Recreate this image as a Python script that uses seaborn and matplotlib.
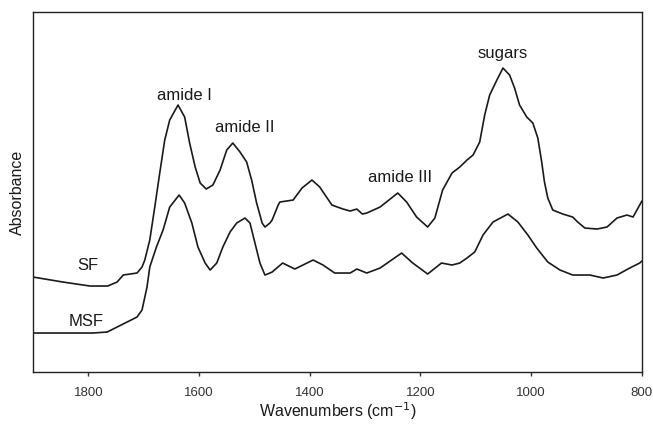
import matplotlib
matplotlib.use("Agg")
import matplotlib.pyplot as plt
import seaborn as sns
import pandas as pd

# ---- data (absorbance in arbitrary units) ----
wn_sf = [1900, 1846, 1797, 1765, 1748, 1737, 1712, 1703, 1698, 1689, 1680, 1671,
         1662, 1653, 1638, 1626, 1617, 1607, 1598, 1587, 1575, 1562, 1550, 1539,
         1526, 1514, 1505, 1496, 1486, 1481, 1472, 1468, 1457, 1454, 1430, 1414,
         1396, 1382, 1360, 1340, 1327, 1315, 1305, 1297, 1273, 1241, 1225, 1207,
         1187, 1174, 1160, 1143, 1129, 1116, 1105, 1093, 1084, 1075, 1062, 1051,
         1039, 1030, 1021, 1008, 997, 988, 981, 976, 970, 961, 943, 925,
         916, 903, 881, 863, 845, 827, 816, 804, 800]
abs_sf = [95, 90, 86, 86, 90, 97, 99, 105, 112, 132, 165, 199,
          232, 252, 267, 255, 229, 205, 189, 183, 187, 202, 222, 229,
          220, 210, 192, 169, 149, 145, 149, 152, 167, 170, 172, 184,
          192, 185, 167, 163, 161, 163, 158, 159, 165, 179, 170, 155,
          145, 154, 182, 199, 205, 212, 217, 230, 257, 277, 292, 304,
          297, 284, 267, 255, 249, 234, 210, 190, 174, 162, 158, 155,
          150, 144, 143, 145, 154, 157, 155, 167, 171]

wn_msf = [1900, 1792, 1766, 1748, 1730, 1712, 1703, 1694, 1689, 1677, 1665, 1653,
          1636, 1626, 1613, 1602, 1589, 1580, 1568, 1557, 1544, 1532, 1517, 1508,
          1499, 1490, 1481, 1472, 1468, 1449, 1427, 1394, 1376, 1355, 1327, 1315,
          1297, 1273, 1234, 1214, 1187, 1162, 1143, 1129, 1116, 1102, 1087, 1069,
          1042, 1024, 1006, 990, 970, 948, 925, 894, 870, 845, 822, 804, 800]
abs_msf = [39, 39, 40, 45, 50, 55, 62, 85, 105, 125, 142, 165,
           177, 169, 149, 125, 109, 102, 109, 125, 140, 149, 154, 149,
           129, 109, 97, 99, 100, 109, 103, 112, 107, 99, 99, 103,
           99, 104, 119, 109, 98, 109, 107, 109, 114, 120, 137, 150,
           158, 150, 137, 124, 110, 102, 97, 97, 94, 97, 104, 109, 111]

band_labels = ["amide I", "amide II", "amide III", "sugars"]
band_wn = [1627, 1517, 1237, 1051]
band_abs = [277, 245, 195, 319]

series_labels = ["SF", "MSF"]
series_label_wn = [1800, 1804]
series_label_abs = [107, 51]

x_ticks = [1800, 1600, 1400, 1200, 1000, 800]

# ---- plotting ----
sns.set_theme(style="white")
plt.rcParams["font.family"] = ["Liberation Sans", "DejaVu Sans"]

df = pd.concat([
    pd.DataFrame({"wn": wn_sf, "A": abs_sf, "s": "SF"}),
    pd.DataFrame({"wn": wn_msf, "A": abs_msf, "s": "MSF"}),
])

fig = plt.figure(figsize=(6.53, 4.24), dpi=100)
ax = fig.add_axes([0.0505, 0.1226, 0.9325, 0.849])

sns.lineplot(data=df, x="wn", y="A", units="s", estimator=None,
             color="#1a1a1a", linewidth=1.2, ax=ax, legend=False,
             solid_joinstyle="round")

ax.set_xlim(1900, 800)
ax.set_ylim(0, 360)
ax.set_xticks(x_ticks)
ax.set_xticklabels([str(t) for t in x_ticks], color="#333333", fontsize=9.5)
ax.set_yticks([])
ax.tick_params(axis="x", direction="out", length=3, width=1, color="#333333",
               bottom=True, pad=8)
for sp in ax.spines.values():
    sp.set_visible(True)
    sp.set_color("#222222")
    sp.set_linewidth(1.0)

ax.set_xlabel("Wavenumbers (cm$^{-1}$)", fontsize=11.5, color="#1a1a1a", labelpad=1)
ax.set_ylabel("Absorbance", fontsize=11.5, color="#1a1a1a", labelpad=6)

for lab, x, y in zip(band_labels, band_wn, band_abs):
    ax.text(x, y, lab, ha="center", va="center", fontsize=12, color="#1a1a1a")
for lab, x, y in zip(series_labels, series_label_wn, series_label_abs):
    ax.text(x, y, lab, ha="center", va="center", fontsize=12, color="#1a1a1a")

fig.savefig("out.png", dpi=100)
